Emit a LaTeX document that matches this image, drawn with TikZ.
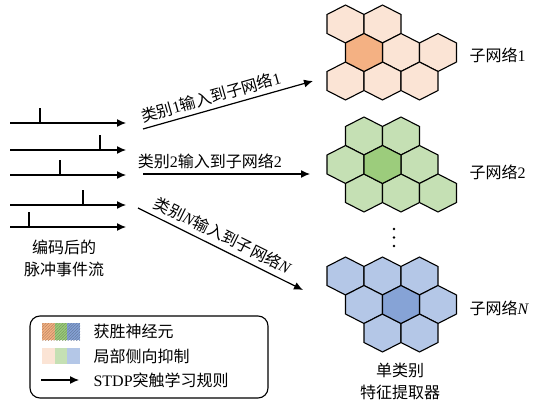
\documentclass[tikz,border=0pt]{standalone}
\usepackage{fontspec}
\setmainfont{Liberation Serif}
\newfontfamily\cjk{Noto Sans CJK SC}
\usetikzlibrary{arrows.meta,patterns.meta}
\newcommand\zh[1]{{\cjk #1}}
\definecolor{orangeL}{RGB}{251,228,213}
\definecolor{orangeW}{RGB}{244,177,131}
\definecolor{greenL}{RGB}{197,224,180}
\definecolor{greenW}{RGB}{156,204,124}
\definecolor{blueL}{RGB}{180,199,231}
\definecolor{blueW}{RGB}{134,163,214}

\begin{document}
\begin{tikzpicture}[x=1pt,y=-1pt,
font=\fontsize{16}{22}\selectfont,
flow/.style={line width=1.2pt, -{Latex[length=9pt,width=8pt]}},
cell/.style={draw=black, line width=1.1pt},
hatched/.style={postaction={pattern={Lines[angle=45,distance=2pt,line width=0.5pt]}, pattern color=#1!75!black}},
winner/.style={cell, fill=#1, hatched=#1},
hexcell/.pic={\path[pic actions] (0,-19)--(18.5,-9.5)--(18.5,9.5)--(0,19)--(-18.5,9.5)--(-18.5,-9.5)--cycle;}
]
\useasboundingbox (0,0) rectangle (549,406);

% encoded spike trains
\foreach \i/\y/\s in {1/123/40,2/150/100,3/175/60,4/205/83,5/227/29} {
  \coordinate (in\i) at (10,\y);
  \coordinate (out\i) at (126,\y);
  \draw[flow] (in\i) -- (out\i);
  \draw[line width=1.2pt] (\s,\y) -- ++(0,-15);
}
\node[align=center] (stream) at (64,258) {\zh{编码后的}\\\zh{脉冲事件流}};

% sub-networks
\foreach \c/\r in {0/24,2/24,3/52.5,5/52.5,0/81,2/81,4/81}
  \pic[cell, fill=orangeL] at ({345.5+18.5*\c},\r) {hexcell};
\pic[winner=orangeW] at (364,52.5) {hexcell};

\foreach \c/\r in {1/136,3/136,0/164.5,4/164.5,1/193,3/193,5/193}
  \pic[cell, fill=greenL] at ({345.5+18.5*\c},\r) {hexcell};
\pic[winner=greenW] at (382.5,164.5) {hexcell};

\foreach \c/\r in {0/276,2/276,4/276,1/304.5,5/304.5,2/333,4/333}
  \pic[cell, fill=blueL] at ({345.5+18.5*\c},\r) {hexcell};
\pic[winner=blueW] at (401,304.5) {hexcell};

\foreach \y in {229,237.5,246}
  \fill (394,\y) circle (1.3);

\node[anchor=west] (net1) at (466,55) {\zh{子网络}1};
\node[anchor=west] (net2) at (466,172) {\zh{子网络}2};
\node[anchor=west] (netN) at (466,308) {\zh{子网络}\textit{N}};
\node[align=center] (extractor) at (400,381) {\zh{单类别}\\\zh{特征提取器}};

% class inputs
\coordinate (src1) at (143,129);
\coordinate (dst1) at (313,81);
\coordinate (src2) at (143,174);
\coordinate (dst2) at (310,174);
\coordinate (srcN) at (138,208);
\coordinate (dstN) at (303,290);
\draw[flow] (src1) -- node[pos=0.42, above=1pt, sloped] {\zh{类别}1\zh{输入到子网络}1} (dst1);
\draw[flow] (src2) -- node[pos=0.4, above=1pt] {\zh{类别}2\zh{输入到子网络}2} (dst2);
\draw[flow] (srcN) -- node[pos=0.48, above=2pt, sloped] {\zh{类别}\textit{N}\zh{输入到子网络}\textit{N}} (dstN);

% legend
\node[draw, line width=1.1pt, rounded corners=10pt, minimum width=238pt, minimum height=82pt] (legend) at (149,357) {};
\foreach \k/\col in {0/orange,1/green,2/blue} {
  \path[fill=\col W, hatched=\col W] ({42+12.7*\k},323) rectangle ++(12.7,17);
  \fill[\col L] ({42+12.7*\k},348) rectangle ++(12.7,16);
}
\coordinate (key1) at (41,380);
\coordinate (key2) at (79,380);
\draw[flow] (key1) -- (key2);
\node[anchor=west] (win) at (90,331) {\zh{获胜神经元}};
\node[anchor=west] (inhib) at (90,356) {\zh{局部侧向抑制}};
\node[anchor=west] (stdp) at (90,380) {STDP\zh{突触学习规则}};
\end{tikzpicture}
\end{document}
